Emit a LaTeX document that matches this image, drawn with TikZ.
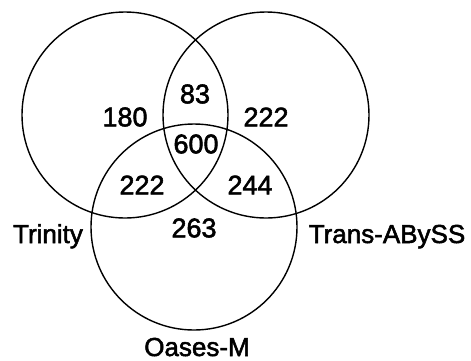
\documentclass[tikz,border=0pt]{standalone}
\usepackage{fontspec}
\setmainfont{Liberation Sans}
\newfontface\heavysans{Liberation Sans}[FakeBold=2]
\begin{document}
\begin{tikzpicture}[x=1pt,y=-1pt,
  ring/.style={draw=black,line width=1.4pt,circle,minimum size=206pt,inner sep=0pt},
  count/.style={font=\heavysans\fontsize{27}{30}\selectfont,inner sep=0pt},
  setname/.style={font=\heavysans\fontsize{26}{30}\selectfont,inner sep=0pt,anchor=base}]
  \useasboundingbox (0,0) rectangle (471,360);
  % the three sets
  \node[ring] (trinity) at (125,115) {};
  \node[ring] (transabyss) at (266,115) {};
  \node[ring] (oases) at (194,227) {};
  % region counts
  \node[count] (onlyT) at (125,117) {180};
  \node[count] (TA) at (195,94) {83};
  \node[count] (onlyA) at (266,117) {222};
  \node[count] (TAO) at (196,144) {600};
  \node[count] (TO) at (142,185) {222};
  \node[count] (AO) at (250,185) {244};
  \node[count] (onlyO) at (194,228) {263};
  % set names
  \node[setname] (lblT) at (48,243) {Trinity};
  \node[setname] (lblA) at (387,243) {Trans-ABySS};
  \node[setname] (lblO) at (197,356) {Oases-M};
\end{tikzpicture}
\end{document}
